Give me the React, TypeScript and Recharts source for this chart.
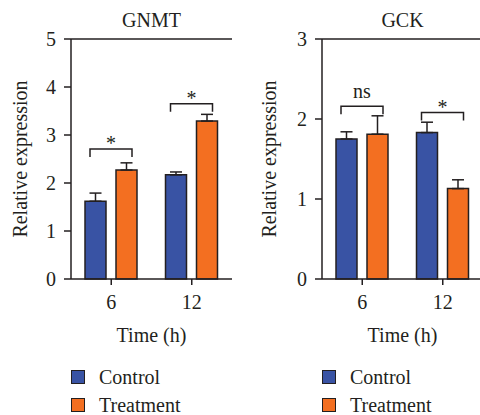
import React from 'react';
import { BarChart, Bar, XAxis, YAxis, ErrorBar, LabelList, Legend } from 'recharts';

const timeLabels = ['6', '12'];
const seriesNames = ['Control', 'Treatment'];

const gnmtControl = [1.62, 2.17];
const gnmtControlErr = [0.17, 0.06];
const gnmtTreatment = [2.27, 3.29];
const gnmtTreatmentErr = [0.15, 0.14];
const gnmtSigLevel = [2.71, 3.65];
const gnmtSigLabel = ['*', '*'];
const gnmtTicks = [0, 1, 2, 3, 4, 5];

const gckControl = [1.75, 1.83];
const gckControlErr = [0.09, 0.13];
const gckTreatment = [1.81, 1.13];
const gckTreatmentErr = [0.23, 0.11];
const gckSigLevel = [2.16, 2.08];
const gckSigLabel = ['ns', '*'];
const gckTicks = [0, 1, 2, 3];

const BLUE = '#3953a4';
const ORANGE = '#f36f21';
const INK = '#231f20';
const FONT = '"Liberation Serif", "Times New Roman", serif';

function buildRows(c: number[], ce: number[], t: number[], te: number[], lvl: number[], lab: string[]) {
  return timeLabels.map((time, i) => ({
    time,
    control: c[i],
    controlErr: [0, ce[i]],
    treatment: t[i],
    treatmentErr: [0, te[i]],
    sigLevel: lvl[i],
    sigLabel: lab[i],
  }));
}

const BAR_GAP = 10;

function makeBracket(rows: any[]) {
  return (props: any) => {
    const vb = props.viewBox || props;
    const { x, y, width, height } = vb;
    const idx = props.index;
    const value = rows[idx].control;
    const base = y + height;
    const ppu = height / value;
    const ly = base - rows[idx].sigLevel * ppu;
    const x1 = x + 5;
    const x2 = x + 2 * width + BAR_GAP - 5;
    const label = rows[idx].sigLabel;
    const ty = label === '*' ? ly + 1 : ly - 8;
    return (
      <g>
        <path d={`M${x1},${ly + 8}L${x1},${ly}L${x2},${ly}L${x2},${ly + 8}`} fill="none" stroke={INK} strokeWidth={1.5} />
        <text x={(x1 + x2) / 2} y={ty} textAnchor="middle" fontSize={20} fill={INK} fontFamily={FONT}>{label}</text>
      </g>
    );
  };
}

const LegendContent = (props: any) => (
  <div style={{ display: 'flex', flexDirection: 'column', fontFamily: FONT }}>
    {(props.payload || []).map((p: any) => (
      <div key={p.value} style={{ display: 'flex', alignItems: 'center', height: 28 }}>
        <span style={{ display: 'inline-block', width: 14, height: 14, boxSizing: 'border-box', background: p.color, border: `1.5px solid ${INK}`, marginRight: 14 }} />
        <span style={{ fontSize: 20, color: INK }}>{p.value}</span>
      </div>
    ))}
  </div>
);

type PanelProps = {
  title: string;
  rows: any[];
  ticks: number[];
  width: number;
  yAxisWidth: number;
  rightMargin: number;
  yLabelDx: number;
};

function Panel({ title, rows, ticks, width, yAxisWidth, rightMargin, yLabelDx }: PanelProps) {
  const axisStyle = { stroke: INK, strokeWidth: 1.5 };
  const tickStyle = { fontSize: 20, fill: INK, fontFamily: FONT };
  return (
    <BarChart
      width={width}
      height={415}
      data={rows}
      margin={{ top: 0, right: rightMargin, bottom: 66, left: 0 }}
      barGap={BAR_GAP}
      barSize={21}
    >
      <XAxis
        dataKey="time"
        tickSize={6}
        tickMargin={10}
        height={70}
        tick={tickStyle}
        tickLine={axisStyle}
        axisLine={axisStyle}
        label={{ value: 'Time (h)', position: 'insideBottom', offset: 7, fontSize: 20, fill: INK, fontFamily: FONT }}
      />
      <XAxis
        xAxisId="top"
        dataKey="time"
        orientation="top"
        height={39}
        tick={false}
        tickLine={false}
        axisLine={axisStyle}
        label={{ value: title, position: 'insideTop', offset: 13, fontSize: 20, fill: INK, fontFamily: FONT }}
      />
      <YAxis
        type="number"
        domain={[ticks[0], ticks[ticks.length - 1]]}
        ticks={ticks}
        width={yAxisWidth}
        tickSize={7}
        tickMargin={8}
        tick={tickStyle}
        tickLine={axisStyle}
        axisLine={axisStyle}
        label={{ value: 'Relative expression', angle: -90, position: 'center', dx: yLabelDx, fontSize: 20, fill: INK, fontFamily: FONT }}
      />
      <YAxis
        yAxisId="r"
        orientation="right"
        type="number"
        domain={[0, 1]}
        width={0}
        tick={false}
        tickLine={false}
        axisLine={axisStyle}
      />
      <Legend
        layout="vertical"
        align="center"
        verticalAlign="middle"
        content={<LegendContent />}
        wrapperStyle={{ top: 363, left: yAxisWidth, width: 'auto', height: 'auto' }}
      />
      <Bar dataKey="control" name={seriesNames[0]} fill={BLUE} stroke={INK} strokeWidth={1.5} isAnimationActive={false}>
        <ErrorBar dataKey="controlErr" width={6} stroke={INK} strokeWidth={1.5} direction="y" />
        <LabelList dataKey="control" content={makeBracket(rows)} />
      </Bar>
      <Bar dataKey="treatment" name={seriesNames[1]} fill={ORANGE} stroke={INK} strokeWidth={1.5} isAnimationActive={false}>
        <ErrorBar dataKey="treatmentErr" width={6} stroke={INK} strokeWidth={1.5} direction="y" />
      </Bar>
    </BarChart>
  );
}

const gnmtRows = buildRows(gnmtControl, gnmtControlErr, gnmtTreatment, gnmtTreatmentErr, gnmtSigLevel, gnmtSigLabel);
const gckRows = buildRows(gckControl, gckControlErr, gckTreatment, gckTreatmentErr, gckSigLevel, gckSigLabel);

export default function App() {
  return (
    <div style={{ position: 'absolute', left: 0, top: 0, width: 480, height: 415, overflow: 'hidden', background: '#fff', fontFamily: FONT }}>
      <div style={{ position: 'absolute', left: 0, top: 0 }}>
        <Panel title="GNMT" rows={gnmtRows} ticks={gnmtTicks} width={240} yAxisWidth={71} rightMargin={8} yLabelDx={-16} />
      </div>
      <div style={{ position: 'absolute', left: 240, top: 0 }}>
        <Panel title="GCK" rows={gckRows} ticks={gckTicks} width={246} yAxisWidth={82} rightMargin={3} yLabelDx={-12} />
      </div>
    </div>
  );
}
